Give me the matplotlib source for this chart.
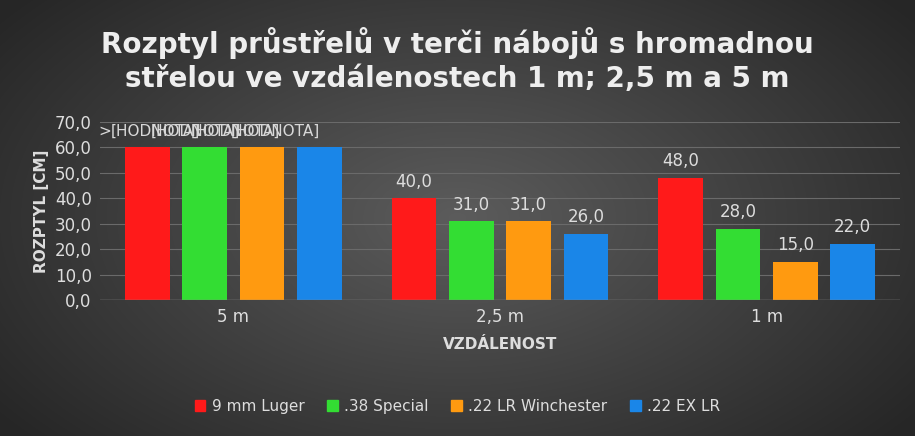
import numpy as np
import matplotlib
matplotlib.use("Agg")
import matplotlib.pyplot as plt

categories = ["5 m", "2,5 m", "1 m"]
series = ["9 mm Luger", ".38 Special", ".22 LR Winchester", ".22 EX LR"]
values = {
    "9 mm Luger": [60, 40, 48],
    ".38 Special": [60, 31, 28],
    ".22 LR Winchester": [60, 31, 15],
    ".22 EX LR": [60, 26, 22],
}
labels = {
    "9 mm Luger": [None, "40,0", "48,0"],
    ".38 Special": [None, "31,0", "28,0"],
    ".22 LR Winchester": [None, "31,0", "15,0"],
    ".22 EX LR": [None, "26,0", "22,0"],
}
colors = ["#ff1a1a", "#33dd33", "#ff9a10", "#1a86e8"]
yticks = np.arange(0, 71, 10)

fig = plt.figure(figsize=(9.15, 4.36), dpi=100)
bg = fig.add_axes([0, 0, 1, 1])
yy, xx = np.mgrid[0:436, 0:915]
r = np.sqrt(((xx - 457) / 600) ** 2 + ((yy - 218) / 350) ** 2)
img = np.clip(0.36 - 0.22 * r, 0.15, 0.4)
bg.imshow(np.dstack([img] * 3), extent=[0, 1, 0, 1], aspect="auto")
bg.axis("off")

ax = fig.add_axes([100 / 915, 1 - 300 / 436, 800 / 915, 178 / 436])
ax.set_facecolor("none")
x = np.arange(len(categories))
w = 0.215
for i, s in enumerate(series):
    pos = x + (i - 1.5) * w
    ax.bar(pos, values[s], width=w * 0.78, color=colors[i], edgecolor="none", zorder=3)
    for p, v, lab in zip(pos, values[s], labels[s]):
        if lab:
            ax.text(p, v + 3, lab, ha="center", va="bottom", color="#dddddd", fontsize=12)
ax.text(-0.505, 66.5, ">", ha="left", va="center", color="#d8d8d8", fontsize=11)
for k in range(4):
    ax.text(-0.46 + 0.15 * k, 66.5, "[HODNOTA]",
            ha="left", va="center", color="#d8d8d8", fontsize=11)
ax.set_xlim(-0.5, 2.5)
ax.set_ylim(0, 70)
ax.set_yticks(yticks)
ax.set_yticklabels([f"{t:.1f}".replace(".", ",") for t in yticks], color="#dddddd", fontsize=12)
ax.set_xticks(x)
ax.set_xticklabels(categories, color="#dddddd", fontsize=12)
ax.tick_params(length=0, pad=6)
ax.grid(axis="y", color="#6a6a6a", lw=0.8, zorder=0)
for sp in ax.spines.values():
    sp.set_visible(False)
ax.axhline(0, color="#888888", lw=1, zorder=4)
ax.set_ylabel("ROZPTYL [CM]", color="#dddddd", fontsize=11, fontweight="bold")
ax.set_xlabel("VZDÁLENOST", color="#dddddd", fontsize=11, fontweight="bold", labelpad=8)

fig.text(0.5, 0.862, "Rozptyl průstřelů v terči nábojů s hromadnou\nstřelou ve vzdálenostech 1 m; 2,5 m a 5 m",
         ha="center", va="center", color="#eeeeee", fontsize=20, fontweight="bold",
         linespacing=1.3)
handles = [plt.Rectangle((0, 0), 1, 1, color=c) for c in colors]
fig.legend(handles, series, loc="center", bbox_to_anchor=(0.5, 0.068), ncol=4, frameon=False,
           fontsize=11, labelcolor="#dddddd", handlelength=0.7, handleheight=0.7,
           columnspacing=1.5, handletextpad=0.4)
fig.savefig("out.png", dpi=100)
